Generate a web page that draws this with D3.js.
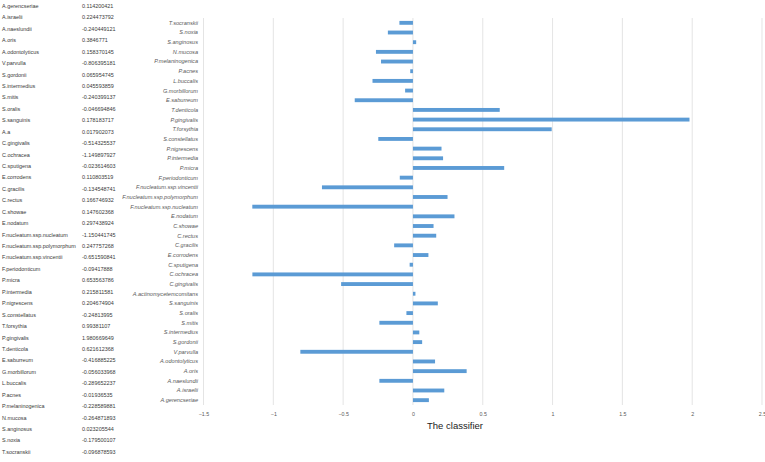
<!DOCTYPE html>
<html><head><meta charset="utf-8">
<script src="https://cdn.jsdelivr.net/npm/d3@7"></script>
<style>body{margin:0;background:#fff}svg{display:block}</style>
</head><body>
<svg id="c" width="765" height="462"></svg>
<script>
const tableNames = ["A.gerencseriae","A.israelii","A.naeslundii","A.oris","A.odontolyticus","V.parvulla","S.gordonii","S.intermedius","S.mitis","S.oralis","S.sanguinis","A.a","C.gingivalis","C.ochracea","C.sputigena","E.corrodens","C.gracilis","C.rectus","C.showae","E.nodatum","F.nucleatum.ssp.nucleatum","F.nucleatum.ssp.polymorphum","F.nucleatum.ssp.vincentii","F.periodonticum","P.micra","P.intermedia","P.nigrescens","S.constellatus","T.forsythia","P.gingivalis","T.denticola","E.saburreum","G.morbillorum","L.buccalis","P.acnes","P.melaninogenica","N.mucosa","S.anginosus","S.noxia","T.socranskii"];
const chartLabels = ["A.gerencseriae","A.israelii","A.naeslundii","A.oris","A.odontolyticus","V.parvulla","S.gordonii","S.intermedius","S.mitis","S.oralis","S.sanguinis","A.actinomycetemcomitans","C.gingivalis","C.ochracea","C.sputigena","E.corrodens","C.gracilis","C.rectus","C.showae","E.nodatum","F.nucleatum.ssp.nucleatum","F.nucleatum.ssp.polymorphum","F.nucleatum.ssp.vincentii","F.periodonticum","P.micra","P.intermedia","P.nigrescens","S.constellatus","T.forsythia","P.gingivalis","T.denticola","E.saburreum","G.morbillorum","L.buccalis","P.acnes","P.melaninogenica","N.mucosa","S.anginosus","S.noxia","T.socranskii"];
const values = [0.114200421,0.224473792,-0.240449121,0.3846771,0.158370145,-0.806395181,0.065954745,0.045593859,-0.240399137,-0.046694846,0.178183717,0.017902073,-0.514325537,-1.149897927,-0.023614603,0.110803519,-0.134548741,0.166746932,0.147602368,0.297438924,-1.150441745,0.247757268,-0.651590841,-0.09417888,0.653563786,0.215811581,0.204674904,-0.24813995,0.99381107,1.980669649,0.621612368,-0.416885225,-0.056033968,-0.289652237,-0.01936535,-0.228589881,-0.264871893,0.023205544,-0.179500107,-0.096878593];
const xTicks = [-1.5,-1,-0.5,0,0.5,1,1.5,2,2.5];
const axisTitle = "The classifier";

const svg = d3.select("#c");
const font = "'Liberation Sans', Arial, sans-serif";

// Table on the left
const ty = d3.scalePoint().domain(d3.range(tableNames.length)).range([6, 452]);
const tbl = svg.append("g").attr("font-family", font).attr("font-size", 5.45).attr("fill", "#3a3a3a");
tbl.selectAll("text.n").data(tableNames).join("text").attr("class","n")
  .attr("x", 2).attr("y", (d,i)=>ty(i)).attr("dy","0.35em").text(d=>d);
tbl.selectAll("text.v").data(values).join("text").attr("class","v")
  .attr("x", 82).attr("y", (d,i)=>ty(i)).attr("dy","0.35em").text(d=>String(d));

// Chart
const x = d3.scaleLinear().domain([-1.5, 2.5]).range([203.5, 762]);
const order = d3.range(chartLabels.length).reverse(); // top is last item
const plotTop = 18, plotBottom = 405;
const y = d3.scaleBand().domain(order).range([plotTop, plotBottom]).paddingInner(0.6).paddingOuter(0.3);

const g = svg.append("g");
g.selectAll("line.grid").data(xTicks).join("line").attr("class","grid")
  .attr("x1", d=>x(d)).attr("x2", d=>x(d)).attr("y1", plotTop).attr("y2", plotBottom)
  .attr("stroke", "#d9d9d9").attr("stroke-width", 0.7);

g.selectAll("rect").data(values).join("rect")
  .attr("x", d=>x(Math.min(0,d))).attr("width", d=>Math.abs(x(d)-x(0)))
  .attr("y", (d,i)=>y(i)).attr("height", y.bandwidth())
  .attr("fill", "#5b9bd5");

g.selectAll("text.cat").data(chartLabels).join("text").attr("class","cat")
  .attr("x", 198).attr("y", (d,i)=>y(i)+y.bandwidth()/2).attr("dy","0.35em")
  .attr("text-anchor","end").attr("font-family", font).attr("font-style","italic")
  .attr("font-size", 5.6).attr("fill","#595959").text(d=>d);

const xa = g.append("g").attr("transform", `translate(0,${plotBottom})`)
  .call(d3.axisBottom(x).tickValues(xTicks).tickSize(0).tickPadding(7).tickFormat(d3.format("")));
xa.select(".domain").remove();
xa.selectAll("text").attr("font-family", font).attr("font-size", 5.3).attr("fill","#595959");

svg.append("text").attr("x", 455).attr("y", 429).attr("text-anchor","middle")
  .attr("font-family", font).attr("font-size", 9.5).attr("fill","#222").text(axisTitle);
</script>
</body></html>
